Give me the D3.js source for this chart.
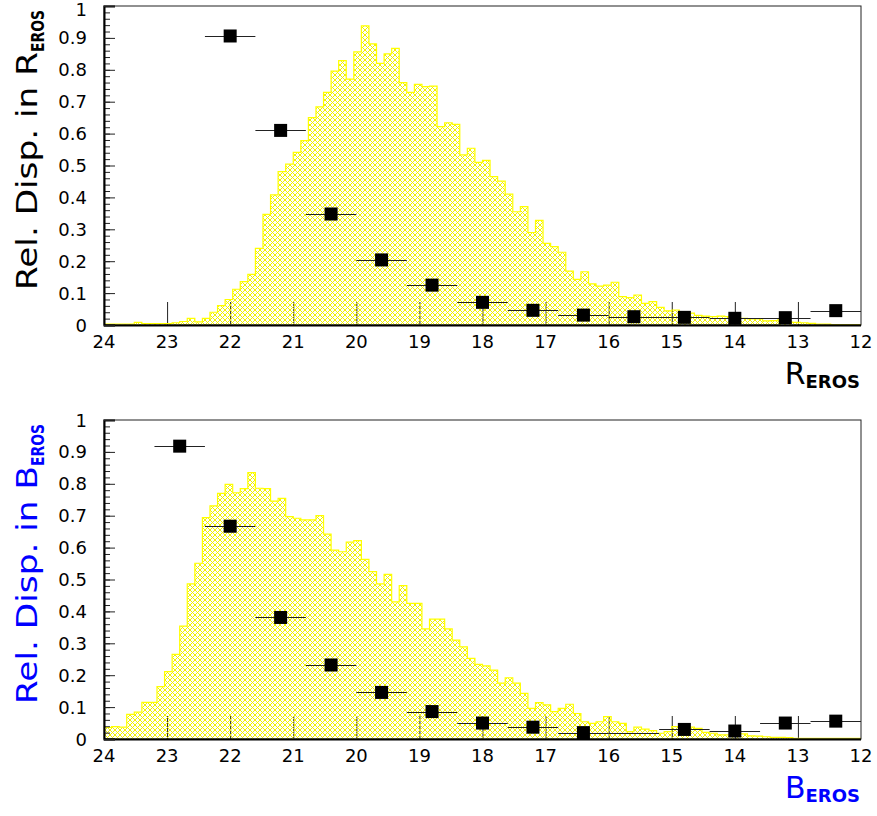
<!DOCTYPE html>
<html>
<head>
<meta charset="utf-8">
<script src="https://cdn.jsdelivr.net/npm/d3@7"></script>
<style>
  html, body { margin: 0; padding: 0; background: #fff; }
  svg { display: block; font-family: "DejaVu Sans", "Liberation Sans", Arial, sans-serif; }
</style>
</head>
<body>
<svg id="chart" width="877" height="816"></svg>
<script>
// Histogram binning: 100 bins of 0.12 mag from 24 down to 12
const binStart = 24;
const binWidth = 0.12;

// Magnitude distribution (normalised) in R_EROS, one value per bin
const rHist = [
  0.003, 0.003, 0.003, 0.003, 0.008, 0.004, 0.004, 0.004, 0.004, 0.007,
  0.011, 0.021, 0.010, 0.021, 0.040, 0.061, 0.080, 0.112, 0.136, 0.159,
  0.240, 0.347, 0.408, 0.481, 0.504, 0.541, 0.578, 0.650, 0.684, 0.729,
  0.796, 0.829, 0.771, 0.856, 0.938, 0.881, 0.820, 0.850, 0.867, 0.760,
  0.729, 0.754, 0.747, 0.749, 0.622, 0.634, 0.629, 0.533, 0.554, 0.510,
  0.516, 0.465, 0.451, 0.410, 0.355, 0.371, 0.290, 0.328, 0.256, 0.246,
  0.228, 0.169, 0.143, 0.167, 0.129, 0.122, 0.125, 0.134, 0.089, 0.086,
  0.094, 0.068, 0.073, 0.055, 0.044, 0.047, 0.040, 0.037, 0.030, 0.028,
  0.026, 0.028, 0.026, 0.021, 0.021, 0.019, 0.019, 0.013, 0.014, 0.016,
  0.009, 0.008, 0.007, 0.005, 0.003, 0.003, 0.001, 0.001, 0.001, 0.001
];

// Magnitude distribution (normalised) in B_EROS, one value per bin
const bHist = [
  0.036, 0.039, 0.037, 0.077, 0.084, 0.115, 0.115, 0.164, 0.211, 0.265,
  0.354, 0.486, 0.551, 0.694, 0.731, 0.770, 0.798, 0.772, 0.785, 0.835,
  0.786, 0.785, 0.746, 0.754, 0.697, 0.692, 0.687, 0.687, 0.700, 0.642,
  0.592, 0.587, 0.617, 0.622, 0.563, 0.525, 0.486, 0.516, 0.430, 0.481,
  0.425, 0.425, 0.345, 0.376, 0.376, 0.345, 0.310, 0.289, 0.253, 0.234,
  0.229, 0.216, 0.175, 0.192, 0.175, 0.143, 0.096, 0.114, 0.107, 0.086,
  0.096, 0.109, 0.080, 0.054, 0.049, 0.054, 0.070, 0.054, 0.049, 0.023,
  0.037, 0.031, 0.026, 0.018, 0.023, 0.039, 0.036, 0.037, 0.033, 0.021,
  0.018, 0.013, 0.013, 0.020, 0.016, 0.010, 0.009, 0.007, 0.005, 0.005,
  0.004, 0.002, 0.002, 0.002, 0.002, 0.002, 0.002, 0.002, 0.002, 0.002
];

// Relative dispersion, 0.8 mag wide magnitude bins
const rDispMag = [22.0, 21.2, 20.4, 19.6, 18.8, 18.0, 17.2, 16.4, 15.6, 14.8, 14.0, 13.2, 12.4];
const rDisp    = [0.906, 0.610, 0.348, 0.204, 0.125, 0.071, 0.046, 0.031, 0.026, 0.024, 0.021, 0.023, 0.045];

const bDispMag = [22.8, 22.0, 21.2, 20.4, 19.6, 18.8, 18.0, 17.2, 16.4, 15.6, 14.8, 14.0, 13.2, 12.4];
const bDisp    = [0.918, 0.667, 0.381, 0.232, 0.146, 0.086, 0.050, 0.037, 0.020, 0.019, 0.030, 0.025, 0.050, 0.056];
// bins whose marker is not drawn (only the error bar shows)
const bNoMarker = [15.6];

const dispHalfWidth = 0.4;

// Axis ticks
const xTicks = [24, 23, 22, 21, 20, 19, 18, 17, 16, 15, 14, 13, 12];
const yTicks = [0, 0.1, 0.2, 0.3, 0.4, 0.5, 0.6, 0.7, 0.8, 0.9, 1];
const yTickLabels = ["0", "0.1", "0.2", "0.3", "0.4", "0.5", "0.6", "0.7", "0.8", "0.9", "1"];

const svg = d3.select("#chart");

// cross-hatch fill for the histograms
const defs = svg.append("defs");
const pat = defs.append("pattern")
  .attr("id", "xhatch")
  .attr("patternUnits", "userSpaceOnUse")
  .attr("width", 5).attr("height", 5);
pat.append("path")
  .attr("d", "M0,0 L5,5 M5,0 L0,5 M-1,4 L1,6 M4,-1 L6,1 M-1,1 L1,-1 M4,6 L6,4")
  .attr("stroke", "#f2f200").attr("stroke-width", 1).attr("fill", "none");

const left = 104, right = 861;

function drawPanel(cfg) {
  const g = svg.append("g");
  const x = d3.scaleLinear().domain([24, 12]).range([left, right]);
  const y = d3.scaleLinear().domain([0, 1]).range([cfg.bottom, cfg.top]);

  // x major ticks (drawn upward from the axis)
  const xAxis = d3.axisBottom(x).tickValues(xTicks.slice(1, -1)).tickSize(-23).tickFormat("");
  const gx = g.append("g").attr("transform", `translate(0,${cfg.bottom})`).call(xAxis);
  gx.select(".domain").remove();
  gx.selectAll(".tick line").attr("stroke", "#222").attr("stroke-width", 1);

  // histogram
  const pts = cfg.hist.map((v, i) => ({ m: binStart - i * binWidth, v }));
  pts.push({ m: binStart - cfg.hist.length * binWidth, v: cfg.hist[cfg.hist.length - 1] });
  const area = d3.area()
    .x(d => x(d.m)).y0(y(0)).y1(d => y(d.v))
    .curve(d3.curveStepAfter);
  const line = d3.line()
    .x(d => x(d.m)).y(d => y(d.v))
    .curve(d3.curveStepAfter);
  g.append("path").datum(pts).attr("d", area).attr("fill", "url(#xhatch)");
  g.append("path").datum(pts).attr("d", line)
    .attr("fill", "none").attr("stroke", "#ffff00").attr("stroke-width", 1.2);

  // frame
  g.append("rect")
    .attr("x", left).attr("y", cfg.top)
    .attr("width", right - left).attr("height", cfg.bottom - cfg.top)
    .attr("fill", "none").attr("stroke", "#222").attr("stroke-width", 1);
  g.append("line")
    .attr("x1", left).attr("x2", right).attr("y1", cfg.bottom + 0.5).attr("y2", cfg.bottom + 0.5)
    .attr("stroke", "#000").attr("stroke-width", 2);

  // y axis: major ticks every 0.1, minor every 0.02 (inside the frame)
  const yMinor = d3.range(0, 51).map(i => i * 0.02);
  const gyMinor = g.append("g").attr("transform", `translate(${left},0)`)
    .call(d3.axisRight(y).tickValues(yMinor).tickSize(6).tickFormat(""));
  gyMinor.select(".domain").remove();
  gyMinor.selectAll(".tick line").attr("stroke", "#222");
  const gy = g.append("g").attr("transform", `translate(${left},0)`)
    .call(d3.axisRight(y).tickValues(yTicks).tickSize(11).tickFormat(""));
  gy.select(".domain").attr("stroke", "#000").attr("stroke-width", 2);
  gy.selectAll(".tick line").attr("stroke", "#222");

  // y tick labels
  g.append("g").selectAll("text").data(yTicks).join("text")
    .attr("x", 87).attr("y", d => Math.max(y(d) + 6.5, 16))
    .attr("text-anchor", "end").attr("font-size", 18).attr("fill", "#000")
    .text((d, i) => yTickLabels[i]);

  // x tick labels
  g.append("g").selectAll("text").data(xTicks).join("text")
    .attr("x", d => x(d)).attr("y", cfg.bottom + 23)
    .attr("text-anchor", "middle").attr("font-size", 18).attr("fill", "#000")
    .text(d => d);

  // dispersion points with 0.8 mag horizontal bars
  const pd = cfg.dispMag.map((m, i) => ({ m, v: cfg.disp[i] }));
  g.append("g").selectAll("line").data(pd).join("line")
    .attr("x1", d => x(d.m + dispHalfWidth)).attr("x2", d => x(d.m - dispHalfWidth))
    .attr("y1", d => Math.round(y(d.v)) + 0.5).attr("y2", d => Math.round(y(d.v)) + 0.5)
    .attr("stroke", "#222").attr("stroke-width", 1);
  const ms = 13;
  g.append("g").selectAll("rect").data(pd.filter(d => !cfg.noMarker.includes(d.m))).join("rect")
    .attr("x", d => x(d.m) - ms / 2).attr("y", d => y(d.v) - ms / 2)
    .attr("width", ms).attr("height", ms).attr("fill", "#000");

  // axis titles (wide lettering, stretched to the axis height)
  const yt = g.append("text")
    .attr("transform", `translate(37,${cfg.bottom - 35}) rotate(-90)`)
    .attr("text-anchor", "start").attr("fill", cfg.color).attr("font-size", 28);
  yt.append("tspan")
    .attr("textLength", 238).attr("lengthAdjust", "spacingAndGlyphs")
    .text("Rel. Disp. in " + cfg.letter);
  yt.append("tspan").attr("dy", 7).attr("font-size", 17).attr("font-weight", "bold")
    .attr("textLength", 42).attr("lengthAdjust", "spacingAndGlyphs")
    .text("EROS");

  const xt = g.append("text")
    .attr("x", 860).attr("y", cfg.bottom + 59)
    .attr("text-anchor", "end").attr("fill", cfg.color).attr("font-size", 30);
  xt.append("tspan").text(cfg.letter);
  xt.append("tspan").attr("dy", 4).attr("font-size", 18).attr("font-weight", "bold").text("EROS");
}

drawPanel({ top: 6, bottom: 325, hist: rHist, dispMag: rDispMag, disp: rDisp, noMarker: [], letter: "R", color: "#000" });
drawPanel({ top: 420, bottom: 739, hist: bHist, dispMag: bDispMag, disp: bDisp, noMarker: bNoMarker, letter: "B", color: "#0000ff" });
</script>
</body>
</html>
